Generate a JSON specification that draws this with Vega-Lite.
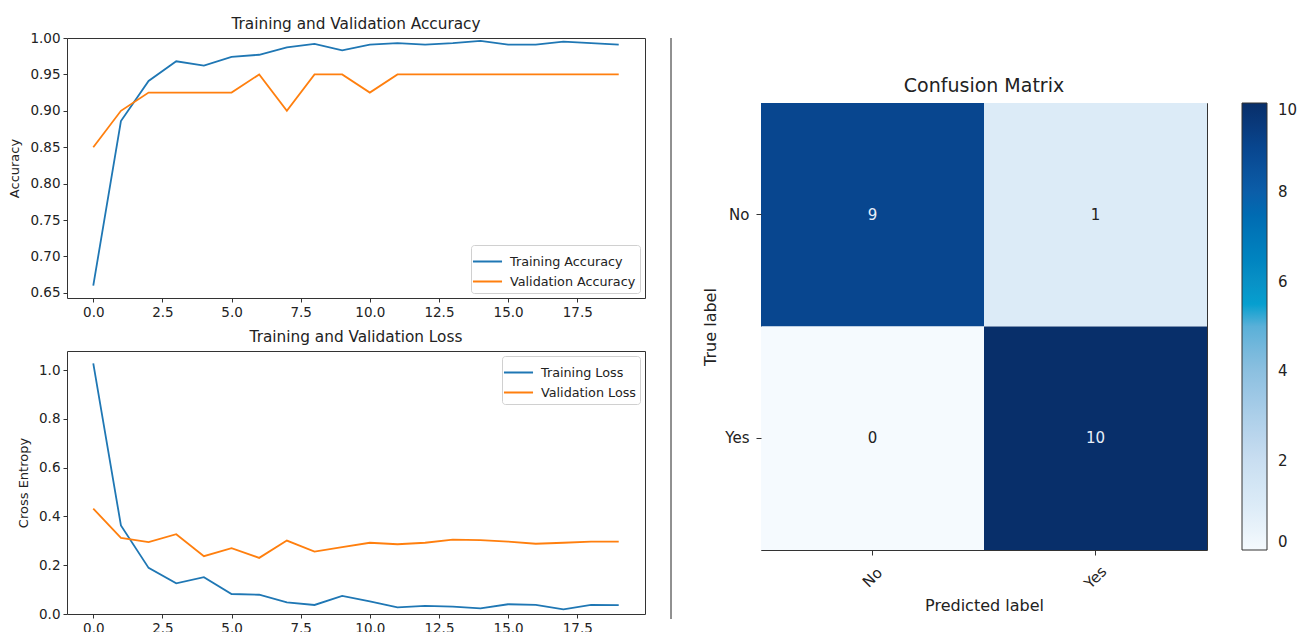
{
  "$schema": "https://vega.github.io/schema/vega-lite/v6.json",
  "background": "white",
  "padding": {"left": 8, "top": 16, "right": 0, "bottom": 0},
  "datasets": {
    "acc": [
      {"epoch": 0, "Training Accuracy": 0.660, "Validation Accuracy": 0.850},
      {"epoch": 1, "Training Accuracy": 0.886, "Validation Accuracy": 0.900},
      {"epoch": 2, "Training Accuracy": 0.941, "Validation Accuracy": 0.925},
      {"epoch": 3, "Training Accuracy": 0.968, "Validation Accuracy": 0.925},
      {"epoch": 4, "Training Accuracy": 0.962, "Validation Accuracy": 0.925},
      {"epoch": 5, "Training Accuracy": 0.974, "Validation Accuracy": 0.925},
      {"epoch": 6, "Training Accuracy": 0.977, "Validation Accuracy": 0.950},
      {"epoch": 7, "Training Accuracy": 0.987, "Validation Accuracy": 0.900},
      {"epoch": 8, "Training Accuracy": 0.992, "Validation Accuracy": 0.950},
      {"epoch": 9, "Training Accuracy": 0.983, "Validation Accuracy": 0.950},
      {"epoch": 10, "Training Accuracy": 0.991, "Validation Accuracy": 0.925},
      {"epoch": 11, "Training Accuracy": 0.993, "Validation Accuracy": 0.950},
      {"epoch": 12, "Training Accuracy": 0.991, "Validation Accuracy": 0.950},
      {"epoch": 13, "Training Accuracy": 0.993, "Validation Accuracy": 0.950},
      {"epoch": 14, "Training Accuracy": 0.996, "Validation Accuracy": 0.950},
      {"epoch": 15, "Training Accuracy": 0.991, "Validation Accuracy": 0.950},
      {"epoch": 16, "Training Accuracy": 0.991, "Validation Accuracy": 0.950},
      {"epoch": 17, "Training Accuracy": 0.995, "Validation Accuracy": 0.950},
      {"epoch": 18, "Training Accuracy": 0.993, "Validation Accuracy": 0.950},
      {"epoch": 19, "Training Accuracy": 0.991, "Validation Accuracy": 0.950}
    ],
    "loss": [
      {"epoch": 0, "Training Loss": 1.027, "Validation Loss": 0.432},
      {"epoch": 1, "Training Loss": 0.363, "Validation Loss": 0.312},
      {"epoch": 2, "Training Loss": 0.189, "Validation Loss": 0.295},
      {"epoch": 3, "Training Loss": 0.126, "Validation Loss": 0.327},
      {"epoch": 4, "Training Loss": 0.151, "Validation Loss": 0.237},
      {"epoch": 5, "Training Loss": 0.082, "Validation Loss": 0.270},
      {"epoch": 6, "Training Loss": 0.079, "Validation Loss": 0.230},
      {"epoch": 7, "Training Loss": 0.048, "Validation Loss": 0.301},
      {"epoch": 8, "Training Loss": 0.037, "Validation Loss": 0.256},
      {"epoch": 9, "Training Loss": 0.074, "Validation Loss": 0.274},
      {"epoch": 10, "Training Loss": 0.052, "Validation Loss": 0.292},
      {"epoch": 11, "Training Loss": 0.027, "Validation Loss": 0.286},
      {"epoch": 12, "Training Loss": 0.033, "Validation Loss": 0.292},
      {"epoch": 13, "Training Loss": 0.030, "Validation Loss": 0.305},
      {"epoch": 14, "Training Loss": 0.023, "Validation Loss": 0.303},
      {"epoch": 15, "Training Loss": 0.040, "Validation Loss": 0.297},
      {"epoch": 16, "Training Loss": 0.037, "Validation Loss": 0.288},
      {"epoch": 17, "Training Loss": 0.019, "Validation Loss": 0.292},
      {"epoch": 18, "Training Loss": 0.037, "Validation Loss": 0.297},
      {"epoch": 19, "Training Loss": 0.036, "Validation Loss": 0.297}
    ],
    "cm": [
      {"true_label": "No", "pred_label": "No", "count": 9},
      {"true_label": "No", "pred_label": "Yes", "count": 1},
      {"true_label": "Yes", "pred_label": "No", "count": 0},
      {"true_label": "Yes", "pred_label": "Yes", "count": 10}
    ]
  },
  "hconcat": [
    {
      "vconcat": [
        {
          "width": 578,
          "height": 260,
          "data": {"name": "acc"},
          "transform": [{"fold": ["Training Accuracy", "Validation Accuracy"], "as": ["series", "value"]}],
          "title": {"text": "Training and Validation Accuracy", "font": "DejaVu Sans", "fontSize": 15.3, "fontWeight": "normal", "color": "#222", "offset": -1},
          "mark": {"type": "line", "strokeWidth": 1.8},
          "encoding": {
            "x": {"field": "epoch", "type": "quantitative", "scale": {"domain": [-0.95, 19.95], "nice": false, "zero": false},
              "axis": {"values": [0, 2.5, 5, 7.5, 10, 12.5, 15, 17.5], "format": ".1f", "title": null}},
            "y": {"field": "value", "type": "quantitative", "scale": {"domain": [0.643, 1.0], "nice": false, "zero": false},
              "axis": {"values": [0.65, 0.7, 0.75, 0.8, 0.85, 0.9, 0.95, 1.0], "format": ".2f", "title": "Accuracy"}},
            "color": {"field": "series", "type": "nominal",
              "scale": {"domain": ["Training Accuracy", "Validation Accuracy"], "range": ["#1f77b4", "#ff7f0e"]},
              "legend": {"title": null, "orient": "bottom-right", "offset": 5}}
          }
        },
        {
          "width": 578,
          "height": 263,
          "data": {"name": "loss"},
          "transform": [{"fold": ["Training Loss", "Validation Loss"], "as": ["series", "value"]}],
          "title": {"text": "Training and Validation Loss", "font": "DejaVu Sans", "fontSize": 15.3, "fontWeight": "normal", "color": "#222", "offset": 6},
          "mark": {"type": "line", "strokeWidth": 1.8},
          "encoding": {
            "x": {"field": "epoch", "type": "quantitative", "scale": {"domain": [-0.95, 19.95], "nice": false, "zero": false},
              "axis": {"values": [0, 2.5, 5, 7.5, 10, 12.5, 15, 17.5], "format": ".1f", "title": null}},
            "y": {"field": "value", "type": "quantitative", "scale": {"domain": [0, 1.078], "nice": false, "zero": false},
              "axis": {"values": [0, 0.2, 0.4, 0.6, 0.8, 1.0], "format": ".1f", "title": "Cross Entropy"}},
            "color": {"field": "series", "type": "nominal",
              "scale": {"domain": ["Training Loss", "Validation Loss"], "range": ["#1f77b4", "#ff7f0e"]},
              "legend": {"title": null, "orient": "top-right", "offset": 5}}
          }
        }
      ],
      "spacing": 10,
      "resolve": {"scale": {"color": "independent", "x": "independent", "y": "independent"}, "legend": {"color": "independent"}}
    },
    {
      "hconcat": [
        {
          "width": 1,
          "height": 581,
          "data": {"values": [{"v": 0}]},
          "view": {"stroke": null},
          "mark": {"type": "rule", "color": "#222", "strokeWidth": 1},
          "encoding": {"x": {"field": "v", "type": "quantitative", "scale": {"domain": [0, 1]}, "axis": null}}
        },
        {
          "vconcat": [
            {
              "width": 446,
              "height": 38,
              "data": {"values": []},
              "view": {"stroke": null},
              "mark": {"type": "point"},
              "encoding": {}
            },
            {
              "width": 446,
              "height": 447,
              "data": {"name": "cm"},
              "title": {"text": "Confusion Matrix", "font": "DejaVu Sans", "fontSize": 19, "fontWeight": "normal", "color": "#222", "offset": 7},
              "encoding": {
                "x": {"field": "pred_label", "type": "nominal", "sort": ["No", "Yes"], "scale": {"paddingInner": 0, "paddingOuter": 0},
                  "axis": {"title": "Predicted label", "labelAngle": -45, "labelAlign": "center", "labelBaseline": "middle", "labelPadding": 22, "tickSize": 5, "labelFont": "DejaVu Sans", "labelFontSize": 15, "titleFont": "DejaVu Sans", "titleFontSize": 16, "titlePadding": 6}},
                "y": {"field": "true_label", "type": "nominal", "sort": ["No", "Yes"], "scale": {"paddingInner": 0, "paddingOuter": 0},
                  "axis": {"title": "True label", "labelAngle": 0, "tickSize": 5, "labelPadding": 7, "labelFont": "DejaVu Sans", "labelFontSize": 15, "titleFont": "DejaVu Sans", "titleFontSize": 16, "titlePadding": 6}}
              },
              "layer": [
                {
                  "mark": {"type": "rect"},
                  "encoding": {
                    "color": {"field": "count", "type": "quantitative",
                      "scale": {"domain": [0, 1, 2, 4, 5, 5.3, 6, 8, 9, 10],
                        "range": ["#f5fafe", "#dcebf7", "#c9def1", "#8cc0e0", "#5ab0d8", "#08a5d2", "#0891c6", "#0b5ea9", "#08468f", "#082f6a"]},
                      "legend": {"title": null, "orient": "right", "offset": 35, "direction": "vertical", "gradientLength": 447, "gradientThickness": 25,
                        "values": [0, 2, 4, 6, 8, 10], "labelFont": "DejaVu Sans", "labelFontSize": 15, "labelOffset": 11, "labelColor": "#222",
                        "gradientStrokeColor": "#333", "gradientStrokeWidth": 1, "strokeColor": "white", "fillColor": "white", "padding": 0}}
                  }
                },
                {
                  "mark": {"type": "text", "font": "DejaVu Sans", "fontSize": 15},
                  "encoding": {
                    "text": {"field": "count", "type": "quantitative"},
                    "color": {"condition": {"test": "datum.count > 5", "value": "#e8eff9"}, "value": "#222"}
                  }
                }
              ]
            }
          ],
          "spacing": 0,
          "resolve": {"scale": {"color": "independent"}, "legend": {"color": "independent"}}
        }
      ],
      "spacing": 30,
      "resolve": {"scale": {"color": "independent"}, "legend": {"color": "independent"}}
    }
  ],
  "spacing": 24,
  "resolve": {"scale": {"color": "independent"}, "legend": {"color": "independent"}},
  "config": {
    "view": {"stroke": "#333", "strokeWidth": 1},
    "axis": {"grid": false, "domain": false, "tickColor": "#333", "tickSize": 4, "labelPadding": 3,
      "labelColor": "#222", "titleColor": "#222", "labelFont": "DejaVu Sans", "titleFont": "DejaVu Sans",
      "labelFontSize": 13.5, "titleFontSize": 13, "titleFontWeight": "normal", "titlePadding": 8},
    "legend": {"strokeColor": "#d0d0d0", "fillColor": "white", "padding": 4, "cornerRadius": 3, "symbolType": "M-1.3,0H1.3",
      "symbolSize": 500, "symbolStrokeWidth": 2, "symbolFillColor": "transparent", "rowPadding": -1, "labelFontSize": 12.75, "labelColor": "#222",
      "labelFont": "DejaVu Sans", "labelOffset": 10}
  }
}
